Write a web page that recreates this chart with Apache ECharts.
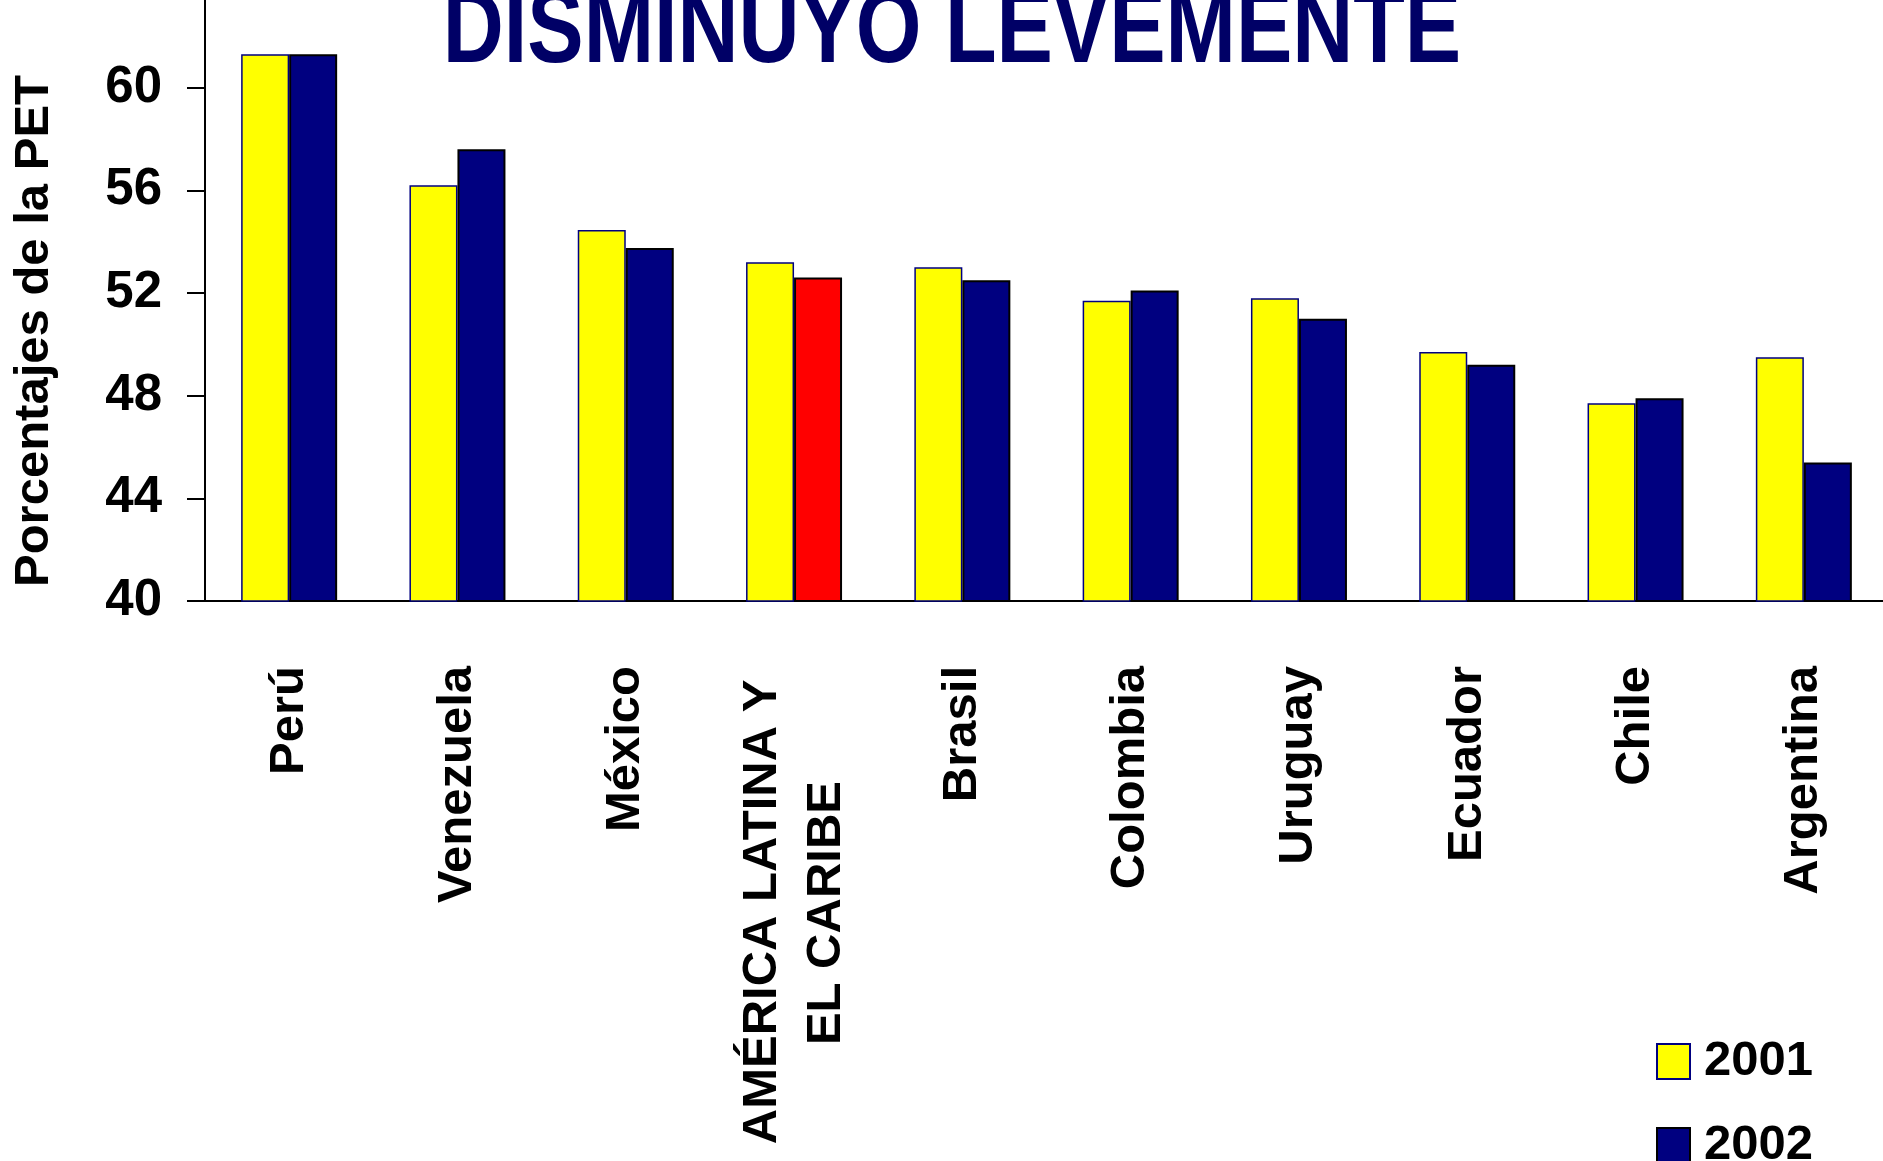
<!DOCTYPE html>
<html><head><meta charset="utf-8">
<script src="https://cdn.jsdelivr.net/npm/echarts@6/dist/echarts.min.js"></script>
<style>html,body{margin:0;padding:0;background:#fff}#c{width:1883px;height:1161px}</style>
</head><body><div id="c"></div>
<script>
const categories = ['Perú','Venezuela','México','AMÉRICA LATINA Y\nEL CARIBE','Brasil','Colombia','Uruguay','Ecuador','Chile','Argentina'];
const values2001 = [61.3, 56.2, 54.45, 53.2, 53.0, 51.7, 51.8, 49.7, 47.7, 49.5];
const values2002 = [61.3, 57.6, 53.75, 52.6, 52.5, 52.1, 51.0, 49.2, 47.9, 45.4];
const yMin = 40, yMax = 64, yStep = 4;
const seriesNames = ['2001', '2002'];
const highlightIndex = 3;
const titleText = 'DISMINUYO LEVEMENTE';
const yAxisTitle = 'Porcentajes de la PET';

const FONT = "'Liberation Sans', Arial, sans-serif";
const chart = echarts.init(document.getElementById('c'), null, {renderer: 'canvas'});

const data2002 = values2002.map((v, i) => i === highlightIndex
  ? {value: v, itemStyle: {color: '#FF0000', borderColor: '#000', borderWidth: 2}}
  : v);

const labelStyle = {fontFamily: FONT, fontWeight: 'bold', fontSize: 49, color: '#000'};

chart.setOption({
  animation: false,
  backgroundColor: '#fff',
  grid: {left: 205, right: -5, top: -15, bottom: 560, containLabel: false, outerBoundsMode: 'none'},
  graphic: [
    {
      type: 'text', x: 952, y: 34, scaleX: 0.82,
      style: {
        text: titleText, fontFamily: FONT, fontWeight: 'bold', fontSize: 103,
        fill: '#000066', align: 'center', verticalAlign: 'middle',
        textShadowColor: '#bdbdbd', textShadowOffsetX: 4, textShadowOffsetY: 4, textShadowBlur: 0
      }
    },
    {
      type: 'text', x: 34, y: 331, rotation: Math.PI / 2,
      style: {
        text: yAxisTitle, fontFamily: FONT, fontWeight: 'bold', fontSize: 49,
        fill: '#000', align: 'center', verticalAlign: 'middle'
      }
    }
  ],
  legend: {
    data: seriesNames, orient: 'vertical', left: 1656, top: 1037, height: 300, width: 250, padding: 0,
    icon: 'rect', itemWidth: 33, itemHeight: 35, itemGap: 35,
    textStyle: {fontFamily: FONT, fontWeight: 'bold', fontSize: 49, lineHeight: 35, color: '#000', padding: [0, 0, 0, 9]}
  },
  xAxis: {
    type: 'category', data: categories,
    axisLine: {show: true, lineStyle: {color: '#000', width: 2}},
    axisTick: {show: false},
    axisLabel: {
      interval: 0, rotate: 90, margin: 65,
      fontFamily: FONT, fontWeight: 'bold', fontSize: 49, color: '#000',
      formatter: function (v) {
        if (v.indexOf('\n') >= 0) {
          const parts = v.split('\n');
          return '{a|' + parts[0] + ' }\n{b|' + parts[1] + '}';
        }
        return v;
      },
      rich: {
        a: Object.assign({lineHeight: 64}, labelStyle),
        b: Object.assign({lineHeight: 64, align: 'center', padding: [0, 16, 0, 0]}, labelStyle)
      }
    }
  },
  yAxis: {
    type: 'value', min: yMin, max: yMax, interval: yStep,
    axisLine: {show: true, lineStyle: {color: '#000', width: 2}},
    axisTick: {show: true, length: 18, inside: false, lineStyle: {color: '#000', width: 2}},
    axisLabel: {margin: 43, fontFamily: FONT, fontWeight: 'bold', fontSize: 51, color: '#000',
      formatter: function (v) { return v >= yMax ? '' : String(v); }},
    splitLine: {show: false}
  },
  series: [
    {
      name: seriesNames[0], type: 'bar', data: values2001,
      barWidth: 48, barGap: '0%',
      itemStyle: {color: '#FFFF00', borderColor: '#000080', borderWidth: 1.5}
    },
    {
      name: seriesNames[1], type: 'bar', data: data2002,
      barWidth: 48, barGap: '0%',
      itemStyle: {color: '#000080', borderColor: '#000', borderWidth: 2}
    }
  ]
});
</script>
</body></html>
